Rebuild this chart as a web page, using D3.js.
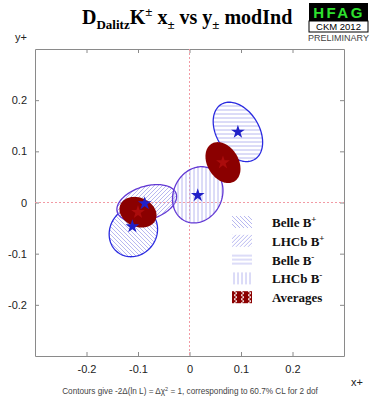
<!DOCTYPE html>
<html>
<head>
<meta charset="utf-8">
<script src="https://cdn.jsdelivr.net/npm/d3@7"></script>
<style>
  body { margin: 0; background: #fff; }
  .tick text { font-family: "Liberation Sans", Arial, sans-serif; font-size: 11px; fill: #222; }
</style>
</head>
<body>
<div id="chart"></div>
<script>
// measurement names (legend order)
const measNames = ["Belle B", "LHCb B", "Belle B", "LHCb B"];
const measSigns = ["+", "+", "-", "-"];
// star positions
const measX = [-0.111, -0.087, 0.094, 0.016];
const measY = [-0.047, -0.002, 0.138, 0.014];
// contour centres, widths and correlation
const ellX = [-0.109, -0.083, 0.094, 0.016];
const ellY = [-0.057, -0.001, 0.138, 0.015];
const sigX = [0.047, 0.058, 0.048, 0.049];
const sigY = [0.049, 0.036, 0.058, 0.055];
const rho = [0.1, 0.35, -0.35, 0.15];

// averages (B+ and B-)
const avgX = [-0.100, 0.065];
const avgY = [-0.019, 0.078];
const avgSigX = [0.036, 0.034];
const avgSigY = [0.030, 0.040];
const avgRho = [-0.2, -0.3];

const tickValues = [-0.2, -0.1, 0, 0.1, 0.2];

const W = 371, H = 397;
const margin = {top: 49, right: 27, bottom: 41, left: 35};

const svg = d3.select('#chart').append('svg')
  .attr('width', W).attr('height', H);

const x = d3.scaleLinear().domain([-0.3, 0.3]).range([margin.left, W - margin.right]);
const y = d3.scaleLinear().domain([-0.3, 0.3]).range([H - margin.bottom, margin.top]);

// hatch patterns
const defs = svg.append('defs');
const hatchCol = '#b0b0ee';
function hatch(id, d) {
  const p = defs.append('pattern').attr('id', id)
    .attr('patternUnits', 'userSpaceOnUse').attr('width', 4).attr('height', 4);
  p.append('path').attr('d', d).attr('stroke', hatchCol).attr('stroke-width', 0.9).attr('fill', 'none');
}
hatch('h-back', 'M-1,-1 L5,5 M-1,3 L1,5 M3,-1 L5,1');
hatch('h-fwd', 'M-1,5 L5,-1 M-1,1 L1,-1 M3,5 L5,3');
hatch('h-horiz', 'M0,2 L4,2');
hatch('h-vert', 'M2,0 L2,4');
const zz = defs.append('pattern').attr('id', 'h-avg')
  .attr('patternUnits', 'userSpaceOnUse').attr('width', 7).attr('height', 4);
zz.append('rect').attr('width', 7).attr('height', 4).attr('fill', '#8b0000');
zz.append('path').attr('d', 'M2,0 L5,2 L2,4').attr('stroke', '#fff').attr('stroke-width', 1).attr('fill', 'none');

const fills = ['url(#h-back)', 'url(#h-fwd)', 'url(#h-horiz)', 'url(#h-vert)'];
const strokes = ['#2a2ae0', '#6238d4', '#2a2ae0', '#6238d4'];

// frame axes
const frameCol = '#8a8a8a';
function styleAxis(g) {
  g.selectAll('.domain').attr('stroke', frameCol);
  g.selectAll('.tick line').attr('stroke', frameCol);
}
svg.append('g').attr('transform', `translate(${margin.left},0)`)
  .call(d3.axisLeft(y).tickValues(tickValues).tickSizeInner(-4).tickSizeOuter(0).tickPadding(8).tickFormat(d => String(d)))
  .call(styleAxis);
svg.append('g').attr('transform', `translate(0,${H - margin.bottom})`)
  .call(d3.axisBottom(x).tickValues(tickValues).tickSizeInner(-4).tickSizeOuter(0).tickPadding(9).tickFormat(d => String(d)))
  .call(styleAxis);
svg.append('g').attr('transform', `translate(0,${margin.top})`)
  .call(d3.axisTop(x).tickValues(tickValues).tickSizeInner(-4).tickSizeOuter(0).tickFormat(''))
  .call(styleAxis);
svg.append('g').attr('transform', `translate(${W - margin.right},0)`)
  .call(d3.axisRight(y).tickValues(tickValues).tickSizeInner(-4).tickSizeOuter(0).tickFormat(''))
  .call(styleAxis);
svg.selectAll('.tick text').attr('font-family', null).attr('font-size', null);

// zero lines
svg.append('line').attr('x1', x(0)).attr('x2', x(0)).attr('y1', y(0.3)).attr('y2', y(-0.3))
  .attr('stroke', '#f29aa4').attr('stroke-dasharray', '2,2');
svg.append('line').attr('x1', x(-0.3)).attr('x2', x(0.3)).attr('y1', y(0)).attr('y2', y(0))
  .attr('stroke', '#f29aa4').attr('stroke-dasharray', '2,2');

// contour path from centre, sigmas and correlation
const line = d3.line().x(p => x(p[0])).y(p => y(p[1])).curve(d3.curveLinearClosed);
function ellipse(cx, cy, sx, sy, r) {
  const pts = d3.range(0, 2 * Math.PI, Math.PI / 60).map(t =>
    [cx + sx * Math.cos(t), cy + sy * (r * Math.cos(t) + Math.sqrt(1 - r * r) * Math.sin(t))]);
  return line(pts);
}

const plot = svg.append('g');
plot.selectAll('.meas').data(d3.range(measX.length)).join('path')
  .attr('class', 'meas')
  .attr('d', i => ellipse(ellX[i], ellY[i], sigX[i], sigY[i], rho[i]))
  .attr('fill', i => fills[i])
  .attr('stroke', i => strokes[i])
  .attr('stroke-width', 1.3);

plot.selectAll('.avg').data(d3.range(avgX.length)).join('path')
  .attr('class', 'avg')
  .attr('d', i => ellipse(avgX[i], avgY[i], avgSigX[i], avgSigY[i], avgRho[i]))
  .attr('fill', '#8b0000');

const star = d3.symbol().type(d3.symbolStar).size(58);
plot.selectAll('.avg-star').data(d3.range(avgX.length)).join('path')
  .attr('class', 'avg-star')
  .attr('transform', i => `translate(${x(avgX[i])},${y(avgY[i])})`)
  .attr('d', star)
  .attr('fill', '#ab0c0c');
plot.selectAll('.meas-star').data(d3.range(measX.length)).join('path')
  .attr('class', 'meas-star')
  .attr('transform', i => `translate(${x(measX[i])},${y(measY[i])})`)
  .attr('d', star)
  .attr('fill', '#2020c8');

// legend
const legend = svg.append('g').attr('transform', 'translate(232,216)');
const rows = measNames.map((n, i) => ({name: n, sign: measSigns[i], fill: fills[i]}));
rows.push({name: 'Averages', sign: '', fill: 'url(#h-avg)'});
const item = legend.selectAll('g').data(rows).join('g')
  .attr('transform', (d, i) => `translate(0,${i * 18.8})`);
item.append('rect').attr('width', 20).attr('height', 12).attr('fill', d => d.fill);
const lt = item.append('text').attr('x', 40).attr('y', 11)
  .attr('font-family', '"Liberation Serif", "Times New Roman", serif')
  .attr('font-weight', 'bold').attr('font-size', 13).attr('fill', '#111');
lt.append('tspan').text(d => d.name);
lt.append('tspan').attr('dy', -5).attr('font-size', 9).text(d => d.sign);

// axis titles
const sans = '"Liberation Sans", Arial, sans-serif';
svg.append('text').attr('x', 15).attr('y', 41).attr('font-family', sans).attr('font-size', 11).attr('fill', '#222').text('y+');
svg.append('text').attr('x', 351).attr('y', 386).attr('font-family', sans).attr('font-size', 11).attr('fill', '#222').text('x+');

// footnote
const foot = svg.append('text').attr('x', 190).attr('y', 394).attr('text-anchor', 'middle')
  .attr('font-family', sans).attr('font-size', 8.2).attr('fill', '#444');
foot.append('tspan').text('Contours give -2\u0394(ln L) = \u0394\u03c7');
foot.append('tspan').attr('dy', -3).attr('font-size', 5.5).text('2');
foot.append('tspan').attr('dy', 3).text(' = 1, corresponding to 60.7% CL for 2 dof');

// title
const title = svg.append('text').attr('x', 82).attr('y', 24)
  .attr('font-family', '"Liberation Serif", "Times New Roman", serif')
  .attr('font-weight', 'bold').attr('font-size', 20).attr('fill', '#000');
title.append('tspan').text('D');
title.append('tspan').attr('dy', 5).attr('font-size', 13).text('Dalitz');
title.append('tspan').attr('dy', -5).text('K');
title.append('tspan').attr('dy', -8).attr('font-size', 13).text('\u00b1');
title.append('tspan').attr('dy', 8).text(' x');
title.append('tspan').attr('dy', 5).attr('font-size', 13).text('\u00b1');
title.append('tspan').attr('dy', -5).text(' vs y');
title.append('tspan').attr('dy', 5).attr('font-size', 13).text('\u00b1');
title.append('tspan').attr('dy', -5).text(' modInd');

// HFAG logo
const logo = svg.append('g').attr('transform', 'translate(309,3)');
logo.append('rect').attr('width', 59).attr('height', 18).attr('fill', '#000');
logo.append('text').attr('x', 30).attr('y', 15).attr('text-anchor', 'middle')
  .attr('font-family', sans).attr('font-weight', 'bold').attr('font-size', 15)
  .attr('letter-spacing', 2.5).attr('fill', '#2ee02e').text('HFAG');
logo.append('rect').attr('y', 18).attr('width', 59).attr('height', 11)
  .attr('fill', '#fff').attr('stroke', '#000').attr('stroke-width', 1);
logo.append('text').attr('x', 29.5).attr('y', 27).attr('text-anchor', 'middle')
  .attr('font-family', sans).attr('font-size', 9.5).attr('fill', '#000').text('CKM 2012');
logo.append('text').attr('x', 29.5).attr('y', 38).attr('text-anchor', 'middle')
  .attr('font-family', sans).attr('font-size', 9).attr('fill', '#444').text('PRELIMINARY');
</script>
</body>
</html>
